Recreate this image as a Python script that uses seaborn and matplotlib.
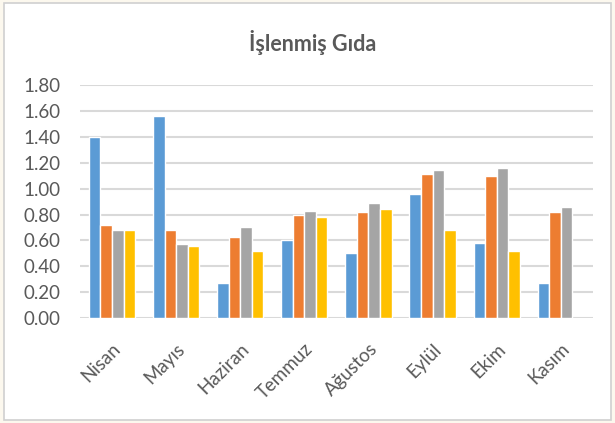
import pandas as pd
import matplotlib
matplotlib.use("Agg")
import matplotlib.pyplot as plt
import seaborn as sns
from matplotlib.patches import Rectangle

# data
months = ["Nisan", "Mayıs", "Haziran", "Temmuz", "Ağustos", "Eylül", "Ekim", "Kasım"]
series_names = ["Seri 1", "Seri 2", "Seri 3", "Seri 4"]
seri1 = [1.40, 1.56, 0.27, 0.60, 0.50, 0.96, 0.58, 0.27]
seri2 = [0.72, 0.68, 0.63, 0.80, 0.82, 1.11, 1.10, 0.82]
seri3 = [0.68, 0.57, 0.70, 0.83, 0.89, 1.14, 1.16, 0.86]
seri4 = [0.68, 0.56, 0.52, 0.78, 0.84, 0.68, 0.52, None]
colors = ["#5B9BD5", "#ED7D31", "#A5A5A5", "#FFC000"]

rows = []
for name, vals in zip(series_names, [seri1, seri2, seri3, seri4]):
    for m, v in zip(months, vals):
        if v is not None:
            rows.append({"Ay": m, "Seri": name, "Değer": v})
df = pd.DataFrame(rows)

sns.set_style("white")
plt.rcParams["font.family"] = ["Lato", "DejaVu Sans"]

fig = plt.figure(figsize=(6.15, 4.23), dpi=100)
fig.patch.set_facecolor("#FCF8EE")
fig.add_artist(Rectangle((0.007, 0.007), 0.986, 0.986, transform=fig.transFigure,
                         facecolor="white", edgecolor="#D0D0D0", linewidth=1.2, zorder=0))
ax = fig.add_axes([0.130, 0.248, 0.834, 0.551])
ax.set_facecolor("none")

sns.barplot(data=df, x="Ay", y="Değer", hue="Seri", order=months, hue_order=series_names,
            palette=colors, saturation=1, width=0.72, errorbar=None, edgecolor="white",
            linewidth=1, legend=False, ax=ax)

ax.set_ylim(0, 1.8)
ax.set_yticks([i * 0.2 for i in range(10)])
ax.set_yticklabels([f"{i * 0.2:.2f}" for i in range(10)])
ax.yaxis.grid(True, color="#D9D9D9", linewidth=1.5)
ax.set_axisbelow(True)
for s in ax.spines.values():
    s.set_visible(False)
ax.set_xlabel("")
ax.set_ylabel("")
ax.tick_params(axis="both", length=0, labelsize=13.5, labelcolor="#595959")
ax.tick_params(axis="y", pad=14)
ax.tick_params(axis="x", pad=16)
for lbl in ax.get_xticklabels():
    lbl.set_rotation(45)
    lbl.set_ha("right")
    lbl.set_rotation_mode("anchor")

fig.text(0.509, 0.90, "İşlenmiş Gıda", ha="center", va="center", fontsize=15.5,
         fontweight="bold", color="#595959")

fig.savefig("out.png", dpi=100, facecolor=fig.get_facecolor())
